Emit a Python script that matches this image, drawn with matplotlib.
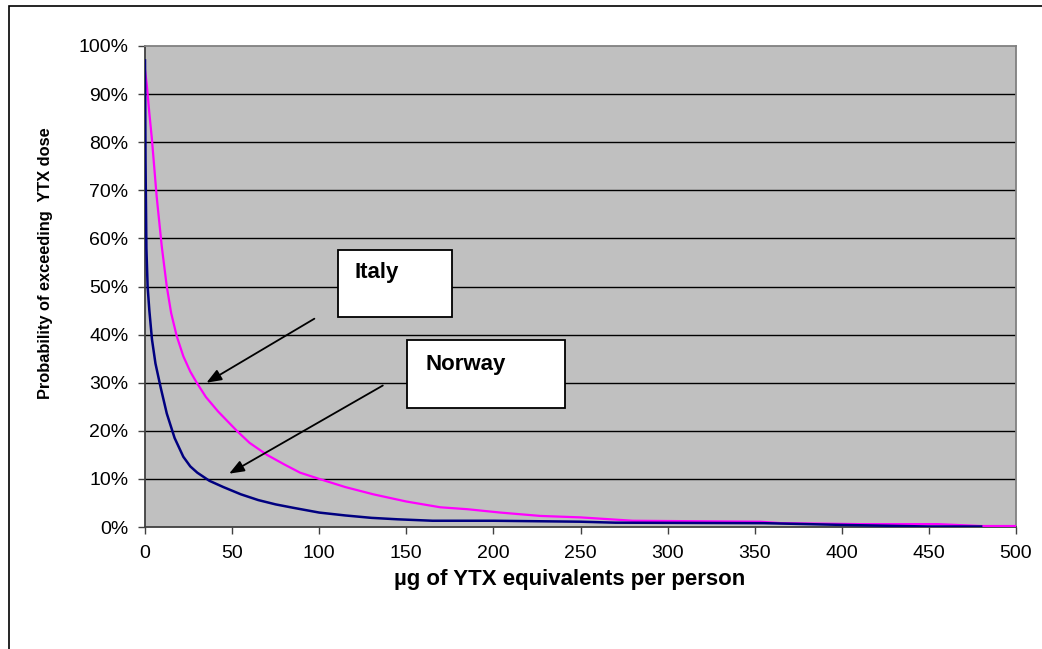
import matplotlib
matplotlib.use("Agg")
import matplotlib.pyplot as plt
from matplotlib.patches import Rectangle
from matplotlib.ticker import FuncFormatter

plt.rcParams['font.family'] = ['Liberation Sans', 'DejaVu Sans']

# Data (dose in µg YTX eq per person, probability of exceeding in %)
italy_x = [0, 1, 2.5, 4, 6.7, 9.6, 12.5, 15, 18.2, 22, 26, 29.7, 35, 42, 52.7, 60, 70, 80, 89, 100,
           115, 131, 150, 169.5, 185, 204, 227, 250, 280, 353, 365, 410, 455, 480, 500]
italy_y = [95, 92, 86, 80.5, 68.7, 58.4, 50, 44.5, 39.7, 35.5, 32.3, 30, 27, 24, 20, 17.5, 15, 13, 11.3, 10,
           8.3, 6.8, 5.3, 4.1, 3.7, 3.0, 2.3, 2.0, 1.3, 1.1, 0.8, 0.6, 0.6, 0.2, 0.2]

norway_x = [0, 0.3, 0.8, 1.5, 2.5, 4, 6, 9, 12.5, 17, 22, 26, 30, 37, 45, 55, 65, 75, 85, 100,
            115, 130, 145, 165, 200, 250, 270, 355, 405, 450, 480]
norway_y = [97, 76, 58, 50, 45, 39, 34, 29, 23.6, 18.5, 14.6, 12.6, 11.3, 9.6, 8.3, 6.8, 5.6, 4.7, 4.0, 3.0,
            2.4, 1.9, 1.6, 1.3, 1.3, 1.1, 0.9, 0.8, 0.4, 0.1, 0.1]

x_ticks = [0, 50, 100, 150, 200, 250, 300, 350, 400, 450, 500]
y_ticks = [0, 10, 20, 30, 40, 50, 60, 70, 80, 90, 100]

labels = ["Italy", "Norway"]

fig = plt.figure(figsize=(10.42, 6.49), dpi=100)
fig.patch.set_facecolor('white')

# outer frame (top and left visible)
fig.add_artist(Rectangle((9/1042, -0.1), 1.2, (649-6)/649 + 0.1, transform=fig.transFigure,
                         fill=False, edgecolor='black', linewidth=1.2))

ax = fig.add_axes([145/1042, (649-527)/649, (1016-145)/1042, (527-46)/649])
ax.set_facecolor('#C0C0C0')
ax.set_xlim(0, 500)
ax.set_ylim(0, 100)

for y in y_ticks[1:-1]:
    ax.axhline(y, color='black', linewidth=1.0, zorder=1)

ax.plot(italy_x, italy_y, color='#FF00FF', linewidth=1.6, zorder=3)
ax.plot(norway_x, norway_y, color='#000080', linewidth=1.8, zorder=3)

ax.set_xticks(x_ticks)
ax.set_yticks(y_ticks)
ax.yaxis.set_major_formatter(FuncFormatter(lambda v, p: f"{int(v)}%"))
ax.tick_params(axis='both', direction='out', length=5, width=1, color='#404040',
               labelsize=14, labelcolor='black')
ax.tick_params(axis='x', pad=8)
ax.tick_params(axis='y', pad=7)
for s in ax.spines.values():
    s.set_color('#808080')
    s.set_linewidth(1.3)
ax.spines['left'].set_color('#404040')
ax.spines['bottom'].set_color('#404040')

ax.set_xlabel("µg of YTX equivalents per person", fontsize=16, fontweight='bold')
ax.xaxis.set_label_coords((570-145)/871, -(579-527)/481, transform=ax.transAxes)
ax.xaxis.label.set_va('center')
ax.set_ylabel("Probability of exceeding  YTX dose", fontsize=11.8, fontweight='bold')
ax.yaxis.set_label_coords(-(145-46)/871, (527-263)/481, transform=ax.transAxes)
ax.yaxis.label.set_va('center')

# annotation boxes
ax.add_patch(Rectangle((110.9, 43.6), 65.4, 13.9, facecolor='white', edgecolor='black',
                       linewidth=1.3, zorder=5))
ax.text(120.5, 53.0, labels[0], fontsize=16, fontweight='bold', va='center', ha='left', zorder=6)
ax.add_patch(Rectangle((150.5, 24.7), 90.7, 14.1, facecolor='white', edgecolor='black',
                       linewidth=1.3, zorder=5))
ax.text(161, 33.8, labels[1], fontsize=16, fontweight='bold', va='center', ha='left', zorder=6)

arrow_kw = dict(arrowstyle='-|>,head_length=0.9,head_width=0.35', color='black', lw=1.3)
ax.annotate('', xy=(33.9, 29.7), xytext=(98.6, 43.6), arrowprops=arrow_kw, zorder=4)
ax.annotate('', xy=(46.9, 10.8), xytext=(137.9, 29.7), arrowprops=arrow_kw, zorder=4)

fig.savefig("out.png", dpi=100)
